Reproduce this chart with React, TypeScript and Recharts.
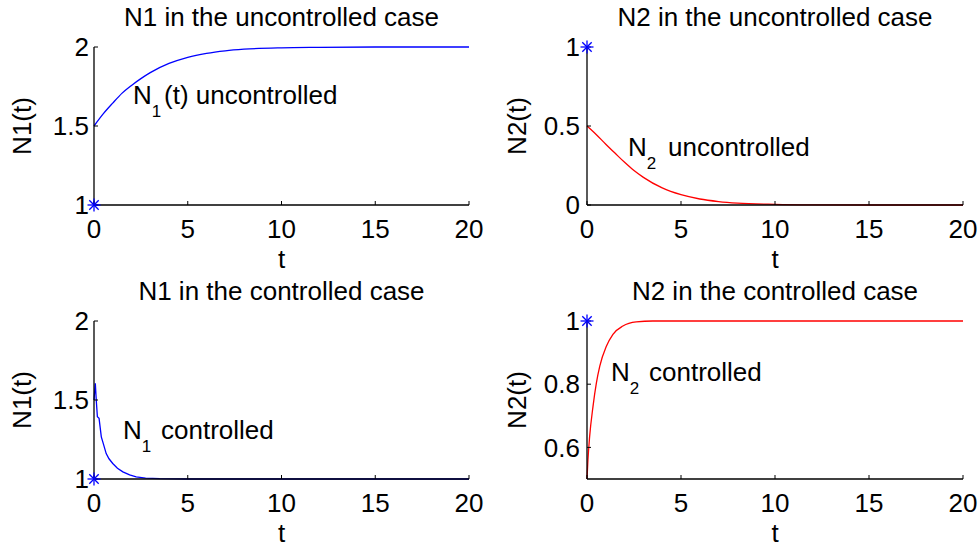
import React from "react";
import { ComposedChart, Line, XAxis, YAxis } from "recharts";

// time samples + values
const tN1Unc = [0, 0.5, 1, 1.5, 2, 2.5, 3, 4, 5, 6, 7, 8, 10, 12, 15, 20];
const n1Unc = [1.5, 1.578, 1.645, 1.708, 1.757, 1.8, 1.838, 1.896, 1.935, 1.96, 1.976, 1.986, 1.995, 1.998, 2, 2];

const tN2Unc = [0, 0.5, 1, 1.5, 2, 2.5, 3, 4, 5, 6, 7, 8, 10, 12, 15, 20];
const n2Unc = [0.5, 0.445, 0.385, 0.327, 0.27, 0.218, 0.175, 0.108, 0.065, 0.038, 0.022, 0.012, 0.004, 0.001, 0, 0];

const tN1Ctl = [0, 0.07, 0.12, 0.18, 0.27, 0.39, 0.5, 0.65, 0.8, 1, 1.25, 1.54, 1.9, 2.25, 2.75, 3.5, 5, 20];
const n1Ctl = [1.5, 1.606, 1.5, 1.394, 1.384, 1.267, 1.222, 1.161, 1.128, 1.098, 1.068, 1.045, 1.026, 1.013, 1.006, 1.002, 1, 1];

const tN2Ctl = [0, 0.05, 0.14, 0.32, 0.5, 0.68, 1.03, 1.38, 1.91, 2.62, 3.5, 20];
const n2Ctl = [0.5, 0.56, 0.634, 0.73, 0.804, 0.857, 0.92, 0.958, 0.984, 0.997, 1, 1];

// equilibrium markers (blue stars)
const starT = [0];
const starN1 = [1];
const starN2 = [1];

const xTicks = [0, 5, 10, 15, 20];
const yTicksN1 = [1, 1.5, 2];
const yTicksN2Unc = [0, 0.5, 1];
const yTicksN2Ctl = [0.6, 0.8, 1];

const zip = (ts: number[], vs: number[]) => ts.map((t, i) => ({ t, v: vs[i] }));

const FONT = "'Liberation Sans', Arial, Helvetica, sans-serif";
const FS = 26;

function Star(props: any) {
  const { cx, cy } = props;
  if (cx == null || cy == null) return null;
  const r = 6.5;
  const d = 4.7;
  return (
    <g stroke="#0000ff" strokeWidth={1.3}>
      <line x1={cx - r} y1={cy} x2={cx + r} y2={cy} />
      <line x1={cx} y1={cy - r} x2={cx} y2={cy + r} />
      <line x1={cx - d} y1={cy - d} x2={cx + d} y2={cy + d} />
      <line x1={cx - d} y1={cy + d} x2={cx + d} y2={cy - d} />
    </g>
  );
}

type Note = { x: number; y: number; sub: string; rest: string; restX: number };

type PanelProps = {
  left: number;
  top: number;
  title: string;
  ylabel: string;
  yLabelX: number;
  domain: [number, number];
  yTicks: number[];
  series: { t: number; v: number }[];
  color: string;
  curve: "monotone" | "linear";
  star: { t: number; v: number }[];
  note: Note;
  marginLeft: number;
  marginRight: number;
  yTickMargin: number;
};

function Panel(p: PanelProps) {
  const W = 490;
  const H = 274;
  const plotL = p.marginLeft + 60;
  const plotR = W - p.marginRight;
  const cx = (plotL + plotR) / 2;
  return (
    <div style={{ position: "absolute", left: p.left, top: p.top, width: W, height: H }}>
      <ComposedChart
        width={W}
        height={H}
        margin={{ top: 47, right: p.marginRight, bottom: 39, left: p.marginLeft }}
        style={{ fontFamily: FONT }}
      >
        <XAxis
          xAxisId="b"
          type="number"
          dataKey="t"
          domain={[0, 20]}
          ticks={xTicks}
          interval={0}
          height={30}
          tickSize={-4}
          tickMargin={19}
          axisLine={{ stroke: "#000", strokeWidth: 1.3 }}
          tickLine={{ stroke: "#000" }}
          tick={{ fill: "#000", fontSize: FS, fontFamily: FONT }}
        />
        <XAxis
          xAxisId="tp"
          orientation="top"
          type="number"
          dataKey="t"
          domain={[0, 20]}
          ticks={xTicks}
          interval={0}
          height={0}
          tickSize={-4}
          axisLine={{ stroke: "#000", strokeWidth: 1.3 }}
          tickLine={{ stroke: "#000" }}
          tick={false}
        />
        <YAxis
          yAxisId="l"
          type="number"
          domain={p.domain}
          ticks={p.yTicks}
          interval={0}
          width={60}
          tickSize={-4}
          tickMargin={p.yTickMargin}
          axisLine={{ stroke: "#000", strokeWidth: 1.3 }}
          tickLine={{ stroke: "#000" }}
          tick={{ fill: "#000", fontSize: FS, fontFamily: FONT }}
        />
        <YAxis
          yAxisId="r"
          orientation="right"
          type="number"
          domain={p.domain}
          ticks={p.yTicks}
          interval={0}
          width={0}
          tickSize={-4}
          axisLine={{ stroke: "#000", strokeWidth: 1.3 }}
          tickLine={{ stroke: "#000" }}
          tick={false}
        />
        <Line
          xAxisId="b"
          yAxisId="l"
          data={p.series}
          dataKey="v"
          type={p.curve}
          stroke={p.color}
          strokeWidth={1.3}
          dot={false}
          isAnimationActive={false}
        />
        <Line
          xAxisId="b"
          yAxisId="l"
          data={p.star}
          dataKey="v"
          stroke="none"
          dot={<Star />}
          isAnimationActive={false}
        />
        <text x={cx} y={26} textAnchor="middle" fontSize={FS} fontFamily={FONT} fill="#000">
          {p.title}
        </text>
        <text x={cx} y={268} textAnchor="middle" fontSize={FS} fontFamily={FONT} fill="#000">
          t
        </text>
        <text
          x={p.yLabelX}
          y={126}
          transform={`rotate(-90 ${p.yLabelX} 126)`}
          textAnchor="middle"
          dominantBaseline="central"
          fontSize={FS}
          fontFamily={FONT}
          fill="#000"
        >
          {p.ylabel}
        </text>
        <text fontFamily={FONT} fill="#000">
          <tspan x={p.note.x} y={p.note.y} fontSize={FS}>N</tspan>
          <tspan y={p.note.y + 13} fontSize={17}>{p.note.sub}</tspan>
          <tspan x={p.note.restX} y={p.note.y} fontSize={FS}>{p.note.rest}</tspan>
        </text>
      </ComposedChart>
    </div>
  );
}

export default function App() {
  return (
    <div
      style={{
        position: "fixed",
        left: 0,
        top: 0,
        width: 980,
        height: 548,
        background: "#fff",
        fontFamily: FONT,
      }}
    >
      <Panel
        left={0}
        top={0}
        title="N1 in the uncontrolled case"
        ylabel="N1(t)"
        yLabelX={22}
        domain={[1, 2]}
        yTicks={yTicksN1}
        series={zip(tN1Unc, n1Unc)}
        color="#0000ff"
        curve="monotone"
        star={zip(starT, starN1)}
        note={{ x: 133, y: 104, sub: "1", rest: "(t) uncontrolled", restX: 164 }}
        marginLeft={34}
        marginRight={21}
        yTickMargin={9}
      />
      <Panel
        left={490}
        top={0}
        title="N2 in the uncontrolled case"
        ylabel="N2(t)"
        yLabelX={27}
        domain={[0, 1]}
        yTicks={yTicksN2Unc}
        series={zip(tN2Unc, n2Unc)}
        color="#ff0000"
        curve="monotone"
        star={zip(starT, starN2)}
        note={{ x: 138, y: 156, sub: "2", rest: "uncontrolled", restX: 178 }}
        marginLeft={37}
        marginRight={17}
        yTickMargin={11}
      />
      <Panel
        left={0}
        top={274}
        title="N1 in the controlled case"
        ylabel="N1(t)"
        yLabelX={22}
        domain={[1, 2]}
        yTicks={yTicksN1}
        series={zip(tN1Ctl, n1Ctl)}
        color="#0000ff"
        curve="linear"
        star={zip(starT, starN1)}
        note={{ x: 123, y: 165, sub: "1", rest: "controlled", restX: 161 }}
        marginLeft={34}
        marginRight={21}
        yTickMargin={9}
      />
      <Panel
        left={490}
        top={274}
        title="N2 in the controlled case"
        ylabel="N2(t)"
        yLabelX={27}
        domain={[0.5, 1]}
        yTicks={yTicksN2Ctl}
        series={zip(tN2Ctl, n2Ctl)}
        color="#ff0000"
        curve="monotone"
        star={zip(starT, starN2)}
        note={{ x: 121, y: 107, sub: "2", rest: "controlled", restX: 159 }}
        marginLeft={37}
        marginRight={17}
        yTickMargin={11}
      />
    </div>
  );
}
